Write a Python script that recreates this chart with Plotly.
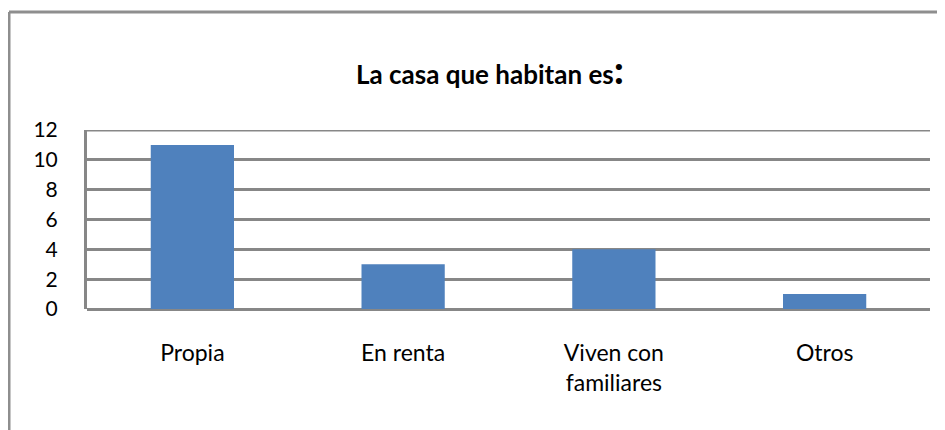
import plotly.graph_objects as go

categories = ["Propia", "En renta", "Viven con<br>familiares", "Otros"]
values = [11, 3, 4, 1]
y_ticks = [0, 2, 4, 6, 8, 10, 12]
title_text = "La casa que habitan es"

GRID = "#878787"
FONT = "Lato, 'Open Sans', sans-serif"

# The page body has an 8px margin, so layout coords = page coords - 8
OFF = 8
W, H = 945 - OFF, 430 - OFF
L, R, T, B = 87 - OFF, 930 - OFF, 130 - OFF, 309 - OFF
pw, ph = R - L, B - T

def px_x(x):
    return (x - OFF - L) / pw

def px_y(y):
    return (B - (y - OFF)) / ph

fig = go.Figure(
    go.Bar(
        x=categories,
        y=values,
        marker=dict(color="#4f81bd", line=dict(width=0)),
        width=0.395,
    )
)

fig.update_layout(
    width=W,
    height=H,
    margin=dict(l=L, r=W - R, t=T, b=H - B),
    paper_bgcolor="white",
    plot_bgcolor="white",
    showlegend=False,
    title=dict(
        text="<b>" + title_text + "</b><span style='font-size:40px'><b>:</b></span>",
        x=(490 - OFF) / W,
        xanchor="center",
        xref="container",
        y=1 - (75 - OFF) / H,
        yanchor="middle",
        yref="container",
        font=dict(family=FONT, size=26, color="black"),
    ),
    font=dict(family=FONT, size=23, color="black"),
    xaxis=dict(
        showgrid=False,
        showline=False,
        ticks="",
        ticklabelstandoff=28,
        tickfont=dict(family=FONT, size=23, color="black"),
        fixedrange=True,
    ),
    yaxis=dict(
        range=[0, 12],
        tickvals=y_ticks,
        showgrid=True,
        gridcolor=GRID,
        gridwidth=3,
        zeroline=True,
        zerolinecolor=GRID,
        zerolinewidth=3,
        showline=True,
        linecolor=GRID,
        linewidth=3,
        ticks="",
        ticklabelstandoff=22,
        tickfont=dict(family=FONT, size=21, color="black"),
        fixedrange=True,
    ),
    shapes=[
        dict(type="line", xref="paper", yref="y",
             x0=0, x1=1, y0=12, y1=12, layer="below",
             line=dict(color=GRID, width=3)),
        dict(type="line", xref="paper", yref="paper",
             x0=px_x(9), x1=px_x(9), y0=px_y(12), y1=px_y(440),
             line=dict(color="#8e8e8e", width=3)),
        dict(type="line", xref="paper", yref="paper",
             x0=px_x(9), x1=px_x(950), y0=px_y(12), y1=px_y(12),
             line=dict(color="#8e8e8e", width=3)),
    ],
)

fig.write_html("out.html")
